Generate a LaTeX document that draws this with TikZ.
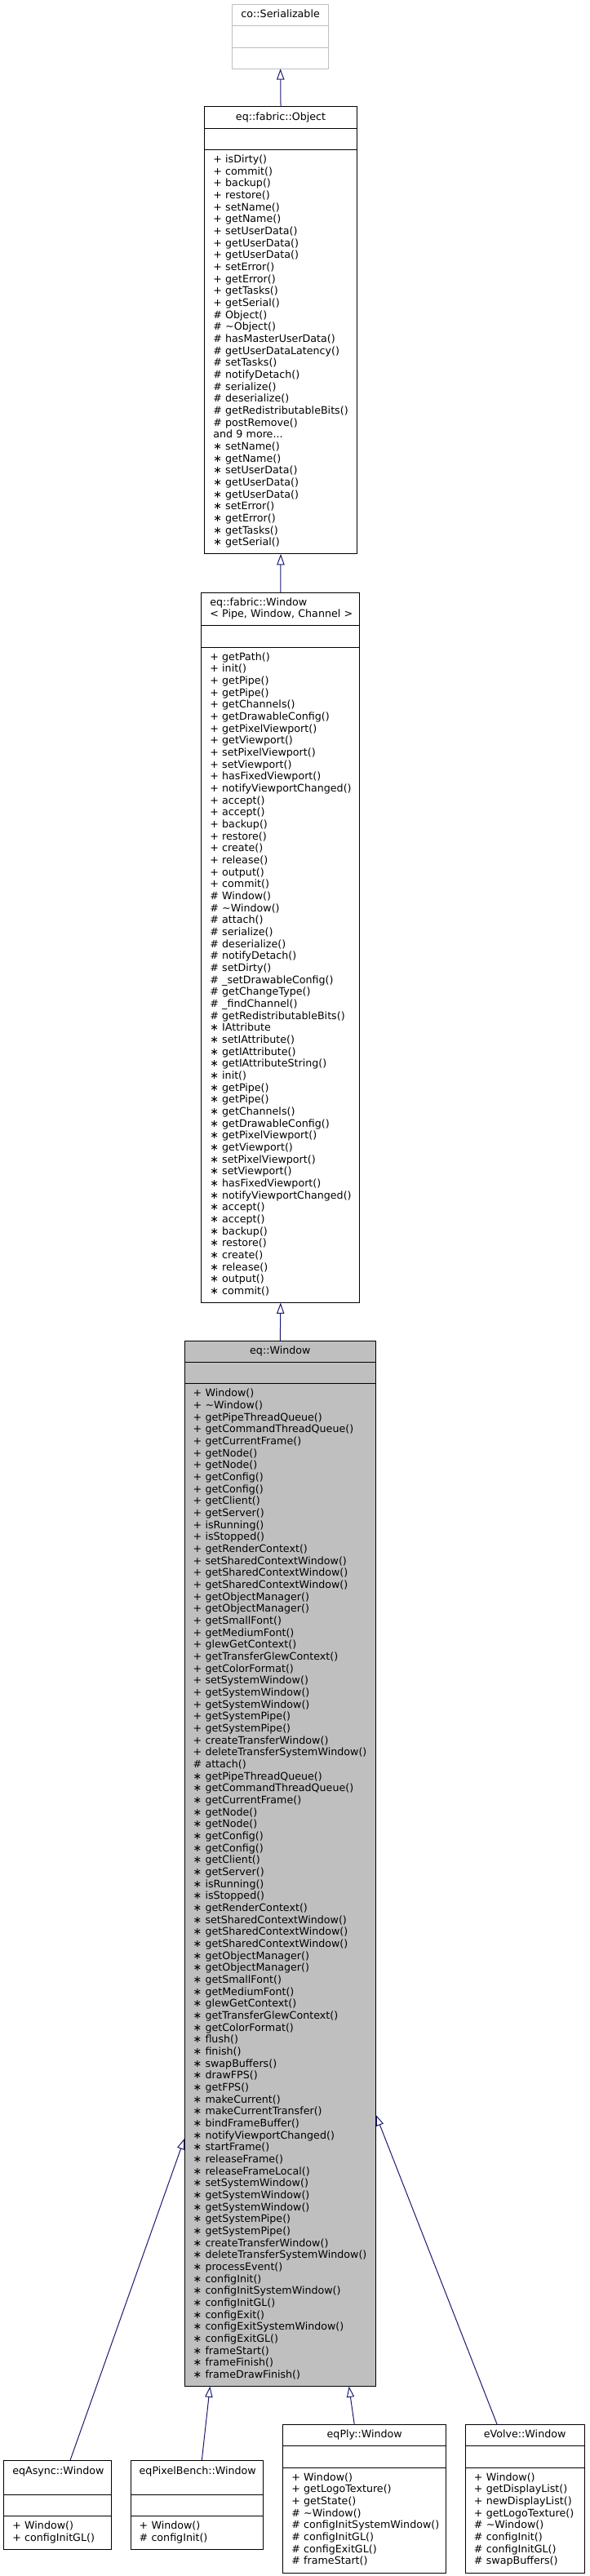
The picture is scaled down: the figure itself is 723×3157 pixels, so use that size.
\documentclass[tikz,border=0pt]{standalone}
\usepackage{fontspec}
\setmainfont{DejaVu Sans}
\usepackage{xcolor}
\usetikzlibrary{shapes.multipart,arrows.meta,calc}
\definecolor{edgeblue}{HTML}{191970}
\definecolor{extgray}{HTML}{BFBFBF}
\definecolor{basefill}{HTML}{BFBFBF}
\setlength{\parindent}{0pt}
\hyphenpenalty=10000
\newcommand{\ttop}{\rule{0pt}{11.7pt}}
\newcommand{\tbot}{\rule[-7.2pt]{0pt}{7.2pt}}
\newcommand{\hd}[1]{\hfill\ttop#1\hfill\tbot}
\newcommand{\nopart}{\ttop\tbot}
\newcommand{\uclass}[5]{\node[uml,text width=#3,#4] (#1) at (#2) {#5};}
\newcommand{\inherit}[2]{\draw[inh] (#1) -- (#2);}
\tikzset{
  uml/.style={draw=black,line width=0.75pt,fill=white,rectangle split,rectangle split parts=3,
    anchor=north west,inner xsep=8pt,inner ysep=0pt,outer sep=0pt,align=left,
    font=\fontsize{9.5}{11}\selectfont},
  inh/.style={edgeblue,line width=0.75pt,-{Triangle[open,length=10pt,width=7pt]}}
}
\begin{document}
\begin{tikzpicture}[x=0.75pt,y=-0.75pt]
	\useasboundingbox (0,0) rectangle (723,3157);
	\uclass{ser}{284.3,5.7}{73pt}{draw=extgray}{\hd{co::Serializable}\nodepart{two}\nopart\nodepart{three}\nopart}
	\uclass{obj}{250.7,131}{124pt}{}{\hd{eq::fabric::Object}\nodepart{two}\nopart\nodepart{three}\ttop
	+~isDirty()\\ +~commit()\\ +~backup()\\ +~restore()\\ +~setName()\\ +~getName()\\ +~setUserData()\\
	+~getUserData()\\ +~getUserData()\\ +~setError()\\ +~getError()\\ +~getTasks()\\ +~getSerial()\\
	\#~Object()\\ \#~\textasciitilde Object()\\ \#~hasMasterUserData()\\ \#~getUserDataLatency()\\
	\#~setTasks()\\ \#~notifyDetach()\\ \#~serialize()\\ \#~deserialize()\\ \#~getRedistributableBits()\\
	\#~postRemove()\\ and~9~more...\\
	∗~setName()\\ ∗~getName()\\ ∗~setUserData()\\ ∗~getUserData()\\ ∗~getUserData()\\
	∗~setError()\\ ∗~getError()\\ ∗~getTasks()\\ ∗~getSerial()\tbot}
	\uclass{fwin}{246.7,726}{129.7pt}{}{\ttop eq::fabric::Window\\ <~Pipe,~Window,~Channel~>\tbot
	\nodepart{two}\nopart\nodepart{three}\ttop
	+~getPath()\\ +~init()\\ +~getPipe()\\ +~getPipe()\\ +~getChannels()\\ +~getDrawableConfig()\\
	+~getPixelViewport()\\ +~getViewport()\\ +~setPixelViewport()\\ +~setViewport()\\ +~hasFixedViewport()\\
	+~notifyViewportChanged()\\ +~accept()\\ +~accept()\\ +~backup()\\ +~restore()\\ +~create()\\
	+~release()\\ +~output()\\ +~commit()\\
	\#~Window()\\ \#~\textasciitilde Window()\\ \#~attach()\\ \#~serialize()\\ \#~deserialize()\\
	\#~notifyDetach()\\ \#~setDirty()\\ \#~\_setDrawableConfig()\\ \#~getChangeType()\\ \#~\_findChannel()\\
	\#~getRedistributableBits()\\
	∗~IAttribute\\ ∗~setIAttribute()\\ ∗~getIAttribute()\\ ∗~getIAttributeString()\\ ∗~init()\\
	∗~getPipe()\\ ∗~getPipe()\\ ∗~getChannels()\\ ∗~getDrawableConfig()\\ ∗~getPixelViewport()\\
	∗~getViewport()\\ ∗~setPixelViewport()\\ ∗~setViewport()\\ ∗~hasFixedViewport()\\
	∗~notifyViewportChanged()\\ ∗~accept()\\ ∗~accept()\\ ∗~backup()\\ ∗~restore()\\
	∗~create()\\ ∗~release()\\ ∗~output()\\ ∗~commit()\tbot}
	\uclass{win}{226,1643.3}{160pt}{fill=basefill}{\hd{eq::Window}\nodepart{two}\nopart\nodepart{three}\ttop
	+~Window()\\ +~\textasciitilde Window()\\ +~getPipeThreadQueue()\\ +~getCommandThreadQueue()\\
	+~getCurrentFrame()\\ +~getNode()\\ +~getNode()\\ +~getConfig()\\ +~getConfig()\\ +~getClient()\\
	+~getServer()\\ +~isRunning()\\ +~isStopped()\\ +~getRenderContext()\\ +~setSharedContextWindow()\\
	+~getSharedContextWindow()\\ +~getSharedContextWindow()\\ +~getObjectManager()\\ +~getObjectManager()\\
	+~getSmallFont()\\ +~getMediumFont()\\ +~glewGetContext()\\ +~getTransferGlewContext()\\
	+~getColorFormat()\\ +~setSystemWindow()\\ +~getSystemWindow()\\ +~getSystemWindow()\\
	+~getSystemPipe()\\ +~getSystemPipe()\\ +~createTransferWindow()\\ +~deleteTransferSystemWindow()\\
	\#~attach()\\
	∗~getPipeThreadQueue()\\ ∗~getCommandThreadQueue()\\ ∗~getCurrentFrame()\\ ∗~getNode()\\
	∗~getNode()\\ ∗~getConfig()\\ ∗~getConfig()\\ ∗~getClient()\\ ∗~getServer()\\
	∗~isRunning()\\ ∗~isStopped()\\ ∗~getRenderContext()\\ ∗~setSharedContextWindow()\\
	∗~getSharedContextWindow()\\ ∗~getSharedContextWindow()\\ ∗~getObjectManager()\\
	∗~getObjectManager()\\ ∗~getSmallFont()\\ ∗~getMediumFont()\\ ∗~glewGetContext()\\
	∗~getTransferGlewContext()\\ ∗~getColorFormat()\\ ∗~flush()\\ ∗~finish()\\
	∗~swapBuffers()\\ ∗~drawFPS()\\ ∗~getFPS()\\ ∗~makeCurrent()\\ ∗~makeCurrentTransfer()\\
	∗~bindFrameBuffer()\\ ∗~notifyViewportChanged()\\ ∗~startFrame()\\ ∗~releaseFrame()\\
	∗~releaseFrameLocal()\\ ∗~setSystemWindow()\\ ∗~getSystemWindow()\\ ∗~getSystemWindow()\\
	∗~getSystemPipe()\\ ∗~getSystemPipe()\\ ∗~createTransferWindow()\\
	∗~deleteTransferSystemWindow()\\ ∗~processEvent()\\ ∗~configInit()\\
	∗~configInitSystemWindow()\\ ∗~configInitGL()\\ ∗~configExit()\\ ∗~configExitSystemWindow()\\
	∗~configExitGL()\\ ∗~frameStart()\\ ∗~frameFinish()\\ ∗~frameDrawFinish()\tbot}
	\uclass{async}{4.7,3015}{82.5pt}{}{\hd{eqAsync::Window}\nodepart{two}\nopart\nodepart{three}\ttop
	+~Window()\\ +~configInitGL()\tbot}
	\uclass{pbench}{160,3015}{106pt}{}{\hd{eqPixelBench::Window}\nodepart{two}\nopart\nodepart{three}\ttop
	+~Window()\\ \#~configInit()\tbot}
	\uclass{ply}{346.7,2971.7}{134pt}{}{\hd{eqPly::Window}\nodepart{two}\nopart\nodepart{three}\ttop
	+~Window()\\ +~getLogoTexture()\\ +~getState()\\ \#~\textasciitilde Window()\\
	\#~configInitSystemWindow()\\ \#~configInitGL()\\ \#~configExitGL()\\ \#~frameStart()\tbot}
	\uclass{evolve}{570.3,2971.7}{93.3pt}{}{\hd{eVolve::Window}\nodepart{two}\nopart\nodepart{three}\ttop
	+~Window()\\ +~getDisplayList()\\ +~newDisplayList()\\ +~getLogoTexture()\\
	\#~\textasciitilde Window()\\ \#~configInit()\\ \#~configInitGL()\\ \#~swapBuffers()\tbot}
	\inherit{obj.north}{ser.south} \inherit{fwin.north}{obj.south} \inherit{win.north}{fwin.south}
	\inherit{$(async.north)+(15.7,0)$}{$(win.south west)+(0,-303.7)$}
	\inherit{$(pbench.north)+(6,0)$}{$(win.south)+(-86,0)$}
	\inherit{$(ply.north)+(-12.4,0)$}{$(win.south)+(84.3,0)$}
	\inherit{$(evolve.north)+(-33.8,0)$}{$(win.south east)+(0,-332.7)$}
\end{tikzpicture}
\end{document}
